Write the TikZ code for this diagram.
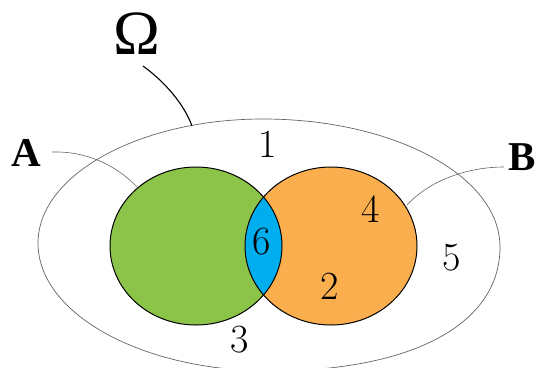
\documentclass[tikz,border=0pt]{standalone}
\usepackage{fontspec}
\newfontfamily\labfont{Liberation Serif}
\definecolor{cgreen}{RGB}{140,196,74}
\definecolor{corange}{RGB}{250,174,78}
\definecolor{cblue}{RGB}{0,174,239}
\definecolor{cline}{RGB}{100,100,100}
\tikzset{
  num/.style={inner sep=0pt, font=\fontsize{40}{40}\selectfont},
  setlab/.style={inner sep=0pt, font=\labfont\bfseries\fontsize{41}{41}\selectfont},
  leader/.style={draw=cline, line width=0.6pt},
  setedge/.style={draw=black, line width=1pt}
}
\begin{document}
\begin{tikzpicture}[x=1pt,y=-1pt]
\useasboundingbox (0,0) rectangle (537,367);
% universe
\draw[cline, line width=0.7pt]
 (263,119) .. controls (394,119) and (500,176) .. (500,247)
 .. controls (500,324) and (413,371) .. (270,371)
 .. controls (142,371) and (38,314) .. (38,243)
 .. controls (38,175) and (139,119) .. (263,119) -- cycle;
% sets
\fill[cgreen] (196,246) ellipse [x radius=86, y radius=79];
\fill[corange] (331,246) ellipse [x radius=86, y radius=79];
\begin{scope}
  \clip (196,246) ellipse [x radius=86, y radius=79];
  \fill[cblue] (331,246) ellipse [x radius=86, y radius=79];
\end{scope}
\draw[setedge] (196,246) ellipse [x radius=86, y radius=79];
\draw[setedge] (331,246) ellipse [x radius=86, y radius=79];
% labels
\node[inner sep=0pt, font=\labfont\fontsize{63}{63}\selectfont] (om) at (137,34) {Ω};
\node[setlab] (la) at (26,153) {A};
\node[setlab] (lb) at (522,157) {B};
\coordinate (omend) at (192,126);
\coordinate (aend) at (137,187);
\coordinate (bend) at (407,205);
\draw[black, line width=1.1pt] (143,66) .. controls (165,82) and (184,104) .. (omend);
\draw[leader] (52,152) .. controls (85,151) and (115,164) .. (aend);
\draw[leader] (504,167) .. controls (468,167) and (430,180) .. (bend);
% region numbers
\node[num] (n1) at (268,144) {1};
\node[num] (n6) at (262,242) {6};
\node[num] (n4) at (371,209) {4};
\node[num] (n2) at (330,286) {2};
\node[num] (n3) at (240,340) {3};
\node[num] (n5) at (452,258) {5};
\end{tikzpicture}
\end{document}
